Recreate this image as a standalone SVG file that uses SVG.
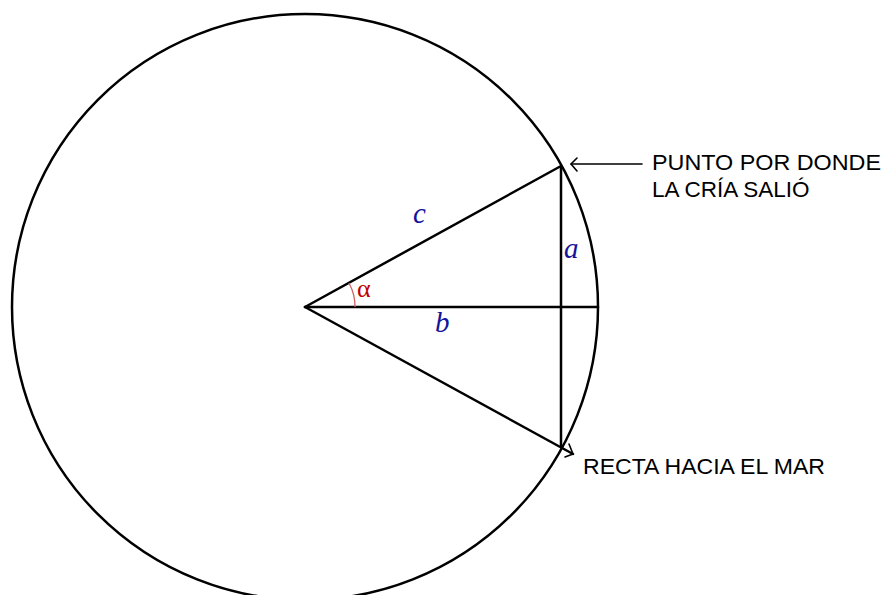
<svg xmlns="http://www.w3.org/2000/svg" width="884" height="595" viewBox="0 0 884 595">
<style>
.ln{stroke:#000;stroke-width:2.5;fill:none;stroke-linecap:round}
.thin{stroke:#000;stroke-width:1.6;fill:none;stroke-linecap:round;stroke-linejoin:round}
.lbl{font-family:"Liberation Serif","Times New Roman",serif;font-style:italic;fill:#14149a;font-size:29px}
.note{font-family:"Liberation Sans",Arial,sans-serif;font-size:22.5px;fill:#000}
</style>
<rect width="884" height="595" fill="#fff"/>
<g id="circle"><circle cx="305" cy="307" r="293" class="ln" stroke-width="2.2"/></g>
<g id="connectors">
<line x1="305" y1="307" x2="561" y2="166" class="ln"/>
<line x1="305" y1="307" x2="598" y2="307" class="ln"/>
<line x1="561" y1="166" x2="561" y2="447" class="ln"/>
<line x1="305" y1="307" x2="573" y2="454" class="ln"/>
<polyline points="569,444 573,454 565,457" class="thin"/>
<line x1="571" y1="164" x2="642" y2="164" class="thin"/>
<polyline points="577,158 571,164 577,171" class="thin"/>
<path d="M355,307 A50,50 0 0 0 349,283" stroke="#d06060" stroke-width="1.3" fill="none"/>
</g>
<g id="labels">
<text x="413" y="223" class="lbl">c</text>
<text x="564" y="258" class="lbl">a</text>
<text x="435" y="332" class="lbl">b</text>
<text x="357" y="297" font-family="Liberation Serif,serif" font-size="26" fill="#c00000">α</text>
</g>
<g id="note-top">
<text x="652" y="170" class="note" textLength="229" lengthAdjust="spacingAndGlyphs">PUNTO POR DONDE</text>
<text x="652" y="197" class="note">LA CRÍA SALIÓ</text>
</g>
<g id="note-bottom">
<text x="583" y="474" class="note" textLength="242" lengthAdjust="spacingAndGlyphs">RECTA HACIA EL MAR</text>
</g>
</svg>
